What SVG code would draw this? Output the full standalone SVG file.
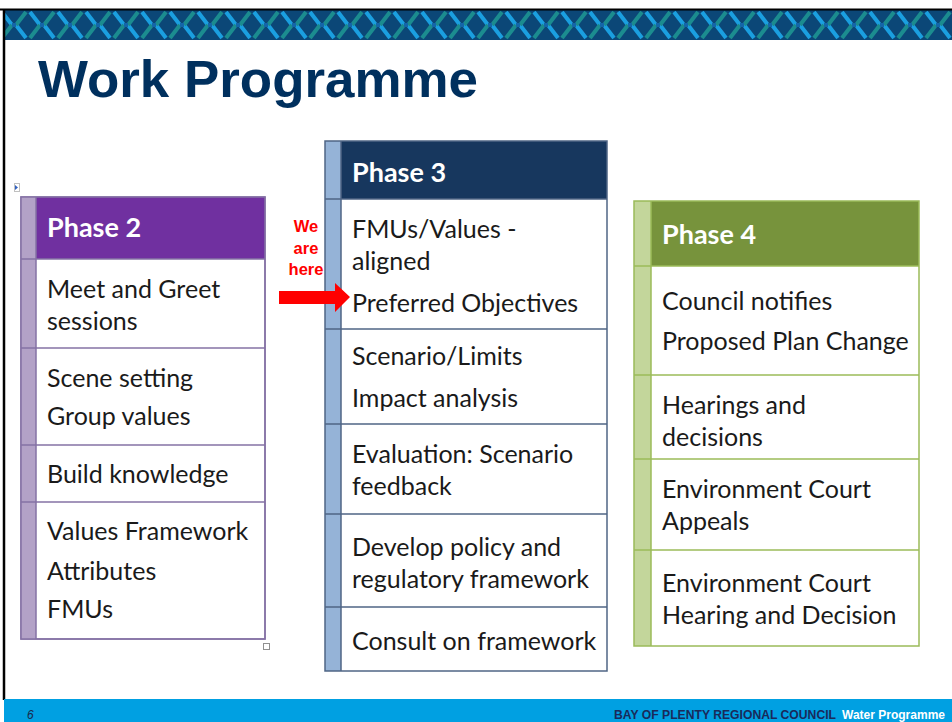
<svg xmlns="http://www.w3.org/2000/svg" width="952" height="722" viewBox="0 0 952 722">
<defs>
<pattern id="weave" x="0" y="10" width="28" height="30" patternUnits="userSpaceOnUse">
<rect width="28" height="30" fill="#0b4777"/>
<path d="M2 2 L12 15 M16 15 L26 28" stroke="#1a9fe0" stroke-width="4"/>
<path d="M26 2 L16 15 M12 15 L2 28" stroke="#1b8c8f" stroke-width="4"/>
<path d="M12 15 L16 15" stroke="#1466a8" stroke-width="4"/>
</pattern>
<style>
.t{font-family:"Lato","Liberation Sans",sans-serif;font-size:25px;fill:#1a1a1a}
.h{font-family:"Lato","Liberation Sans",sans-serif;font-size:27px;font-weight:bold;fill:#ffffff}
.red{font-family:"Liberation Sans",Arial,sans-serif;font-size:16.5px;font-weight:bold;fill:#ff0000;text-anchor:middle}
.ft{font-family:"Liberation Sans",Arial,sans-serif;font-size:12px;font-weight:bold}
</style>
</defs>
<rect width="952" height="722" fill="#ffffff"/>
<rect x="4" y="10" width="948" height="30" fill="url(#weave)"/>
<line x1="0" y1="9.5" x2="952" y2="9.5" stroke="#000" stroke-width="2"/>
<line x1="4" y1="9" x2="4" y2="700" stroke="#000" stroke-width="2.5"/>
<text x="38" y="97" font-family="Liberation Sans,Arial,sans-serif" font-size="52" font-weight="bold" fill="#00305e" textLength="440" lengthAdjust="spacingAndGlyphs">Work Programme</text>

<g id="phase2">
<rect x="21" y="197" width="244" height="442" fill="#ffffff" stroke="#8572a5" stroke-width="1.5"/>
<rect x="21" y="197" width="15" height="442" fill="#b3a2c7"/>
<rect x="36" y="197" width="229" height="62" fill="#7030a0"/>
<g stroke="#8572a5" stroke-width="1.5">
<line x1="21" y1="259" x2="265" y2="259"/>
<line x1="21" y1="348" x2="265" y2="348"/>
<line x1="21" y1="445" x2="265" y2="445"/>
<line x1="21" y1="502" x2="265" y2="502"/>
<line x1="36" y1="197" x2="36" y2="639"/>
</g>
<rect x="21" y="197" width="244" height="442" fill="none" stroke="#8572a5" stroke-width="1.5"/>
<text class="h" x="47" y="237">Phase 2</text>
<text class="t" x="47" y="298">Meet and Greet</text>
<text class="t" x="47" y="330">sessions</text>
<text class="t" x="47" y="387">Scene setting</text>
<text class="t" x="47" y="425">Group values</text>
<text class="t" x="47" y="483">Build knowledge</text>
<text class="t" x="47" y="540">Values Framework</text>
<text class="t" x="47" y="580">Attributes</text>
<text class="t" x="47" y="618">FMUs</text>
</g>

<g id="phase3">
<rect x="325" y="141" width="282" height="530" fill="#ffffff"/>
<rect x="325" y="141" width="16" height="530" fill="#95b3d7"/>
<rect x="341" y="141" width="266" height="58" fill="#17375e"/>
<g stroke="#4f6585" stroke-width="1.5">
<line x1="325" y1="199" x2="607" y2="199"/>
<line x1="325" y1="329" x2="607" y2="329"/>
<line x1="325" y1="424" x2="607" y2="424"/>
<line x1="325" y1="514" x2="607" y2="514"/>
<line x1="325" y1="607" x2="607" y2="607"/>
<line x1="341" y1="141" x2="341" y2="671"/>
</g>
<rect x="325" y="141" width="282" height="530" fill="none" stroke="#4f6585" stroke-width="1.5"/>
<text class="h" x="352" y="182">Phase 3</text>
<text class="t" x="352" y="238">FMUs/Values -</text>
<text class="t" x="352" y="270">aligned</text>
<text class="t" x="352" y="312">Preferred Objectives</text>
<text class="t" x="352" y="365">Scenario/Limits</text>
<text class="t" x="352" y="407">Impact analysis</text>
<text class="t" x="352" y="463">Evaluation: Scenario</text>
<text class="t" x="352" y="495">feedback</text>
<text class="t" x="352" y="556">Develop policy and</text>
<text class="t" x="352" y="588">regulatory framework</text>
<text class="t" x="352" y="650">Consult on framework</text>
</g>

<g id="phase4">
<rect x="634" y="201" width="285" height="445" fill="#ffffff"/>
<rect x="634" y="201" width="17" height="445" fill="#c3d69b"/>
<rect x="651" y="201" width="268" height="65" fill="#77933c"/>
<g stroke="#9bbb59" stroke-width="1.5">
<line x1="634" y1="266" x2="919" y2="266"/>
<line x1="634" y1="375" x2="919" y2="375"/>
<line x1="634" y1="459" x2="919" y2="459"/>
<line x1="634" y1="550" x2="919" y2="550"/>
<line x1="651" y1="201" x2="651" y2="646"/>
</g>
<rect x="634" y="201" width="285" height="445" fill="none" stroke="#9bbb59" stroke-width="1.5"/>
<text class="h" x="662" y="244">Phase 4</text>
<text class="t" x="662" y="310">Council notifies</text>
<text class="t" x="662" y="350">Proposed Plan Change</text>
<text class="t" x="662" y="414">Hearings and</text>
<text class="t" x="662" y="446">decisions</text>
<text class="t" x="662" y="498">Environment Court</text>
<text class="t" x="662" y="530">Appeals</text>
<text class="t" x="662" y="592">Environment Court</text>
<text class="t" x="662" y="624">Hearing and Decision</text>
</g>

<g id="marker">
<text class="red" x="306" y="232">We</text>
<text class="red" x="306" y="254">are</text>
<text class="red" x="306" y="275">here</text>
<polygon points="279,291 335,291 335,283 350,297 335,312 335,304 279,304" fill="#ff0000"/>
</g>

<g id="handles">
<rect x="14.5" y="183.5" width="5" height="8" fill="#ffffff" stroke="#c0c0c0" stroke-width="1"/>
<polygon points="15,185 18,187.5 15,190" fill="#3060c0"/>
<rect x="263.5" y="643.5" width="6" height="6" fill="#ffffff" stroke="#909090" stroke-width="1"/>
</g>

<g id="footer">
<rect x="4" y="699" width="948" height="23" fill="#00a0e2"/>
<text x="27" y="719" font-family="Liberation Sans,Arial,sans-serif" font-size="12" font-style="italic" fill="#1a2a4a">6</text>
<text class="ft" x="614" y="719" fill="#1a2a5a" textLength="222" lengthAdjust="spacingAndGlyphs">BAY OF PLENTY REGIONAL COUNCIL</text>
<text class="ft" x="842" y="719" fill="#ffffff" textLength="103" lengthAdjust="spacingAndGlyphs">Water Programme</text>
</g>
</svg>
